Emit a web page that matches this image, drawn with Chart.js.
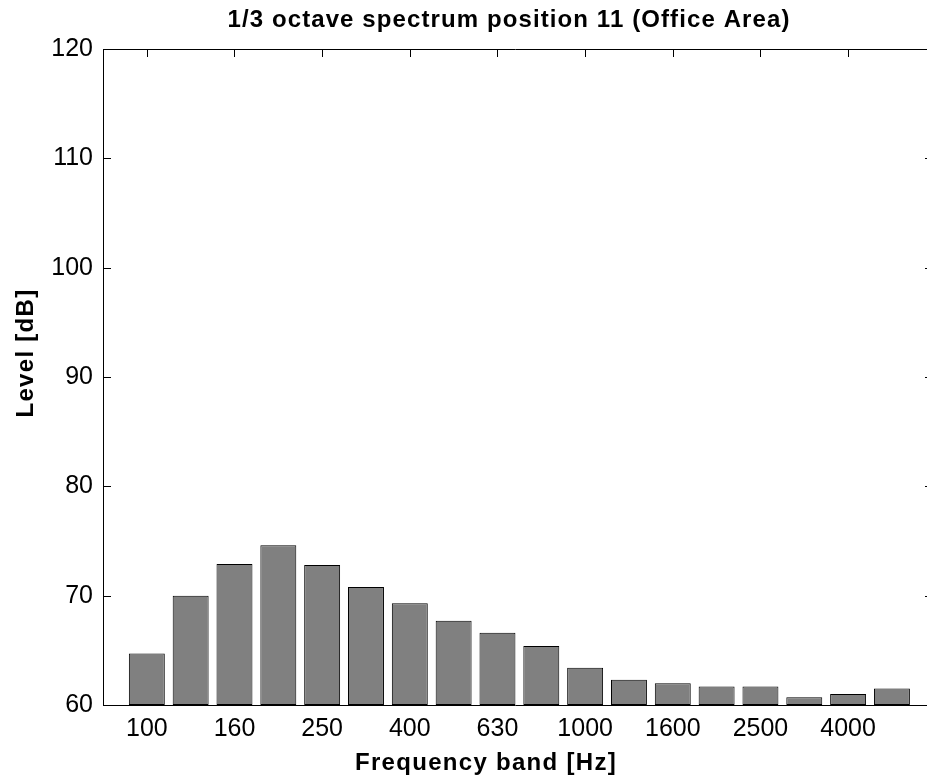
<!DOCTYPE html>
<html>
<head>
<meta charset="utf-8">
<script src="https://cdn.jsdelivr.net/npm/chart.js@4.4.1/dist/chart.umd.min.js"></script>
<style>
  html, body { margin: 0; padding: 0; background: #fff; overflow: hidden; }
  #wrap { width: 927px; height: 778px; position: relative; }
</style>
</head>
<body>
<div id="wrap"><canvas id="chart-spectrum"></canvas></div>
<script>
// 1/3 octave bands (Hz) and measured levels (dB)
const bands  = ['100','125','160','200','250','315','400','500','630','800','1000','1250','1600','2000','2500','3150','4000','5000'];
const levels = [64.7, 70.0, 72.9, 74.6, 72.8, 70.8, 69.3, 67.7, 66.6, 65.4, 63.4, 62.3, 62.0, 61.7, 61.7, 60.7, 61.0, 61.5];

// every second band gets a label
const labeledBands = ['100','160','250','400','630','1000','1600','2500','4000'];
const yTicks = [60, 70, 80, 90, 100, 110, 120];

const titleText  = '1/3 octave spectrum position 11 (Office Area)';
const xTitleText = 'Frequency band [Hz]';
const yTitleText = 'Level [dB]';

const FONT = '"Liberation Sans", Arial, Helvetica, sans-serif';

// MATLAB-like box with inward ticks + titles
const matlabFrame = {
  id: 'matlabFrame',
  beforeDatasetsDraw(chart) {
    const { ctx, chartArea: a, scales } = chart;
    ctx.save();
    ctx.strokeStyle = '#000';
    ctx.lineWidth = 1;
    ctx.beginPath();
    ctx.moveTo(a.left + 0.5, a.top + 0.5);
    ctx.lineTo(a.right + 0.5, a.top + 0.5);
    ctx.moveTo(a.left + 0.5, a.top);
    ctx.lineTo(a.left + 0.5, a.bottom + 0.5);
    ctx.lineTo(a.right + 0.5, a.bottom + 0.5);
    // y ticks, left and right
    scales.y.ticks.forEach(t => {
      const py = Math.round(scales.y.getPixelForValue(t.value)) + 0.5;
      ctx.moveTo(a.left, py); ctx.lineTo(a.left + 8, py);
      ctx.moveTo(a.right, py); ctx.lineTo(a.right - 2, py);
    });
    // x ticks, top and bottom
    scales.x.ticks.forEach(t => {
      const px = Math.round(scales.x.getPixelForValue(t.value)) + 0.5;
      ctx.moveTo(px, a.top); ctx.lineTo(px, a.top + 8);
      ctx.moveTo(px, a.bottom); ctx.lineTo(px, a.bottom - 8);
    });
    ctx.stroke();
    ctx.restore();
  },
  afterDraw(chart) {
    const { ctx } = chart;
    ctx.save();
    ctx.fillStyle = '#000';
    ctx.textAlign = 'center';
    ctx.textBaseline = 'alphabetic';
    ctx.font = 'bold 24px ' + FONT;
    ctx.letterSpacing = '1.1px';
    ctx.fillText(titleText, 509, 27);
    ctx.letterSpacing = '1.3px';
    ctx.fillText(xTitleText, 486, 770);
    ctx.translate(33, 353);
    ctx.rotate(-Math.PI / 2);
    ctx.fillText(yTitleText, 0, 0);
    ctx.restore();
  }
};

const ctx = document.getElementById('chart-spectrum');
new Chart(ctx, {
  type: 'bar',
  data: {
    datasets: [{
      label: 'Level',
      data: levels.map((v, i) => ({ x: i + 1, y: v })),
      base: 60,
      backgroundColor: '#808080',
      borderColor: '#000',
      borderWidth: 1,
      borderSkipped: false,
      inflateAmount: 0,
      barPercentage: 0.82,
      categoryPercentage: 1.0
    }]
  },
  options: {
    responsive: true,
    maintainAspectRatio: false,
    animation: false,
    layout: { padding: { top: 49, left: 0, right: 0, bottom: 0 } },
    plugins: {
      legend: { display: false },
      tooltip: { enabled: false },
      title: { display: false }
    },
    scales: {
      x: {
        type: 'linear',
        offset: false,
        min: 0,
        max: 18.8,
        grid: { display: false },
        border: { display: false },
        afterBuildTicks: s => {
          s.ticks = labeledBands.map(b => ({ value: bands.indexOf(b) + 1 }));
        },
        afterFit: s => { s.height = 73; },
        ticks: {
          autoSkip: false,
          maxRotation: 0,
          padding: 1,
          color: '#000',
          font: { family: FONT, size: 25 },
          callback: v => bands[v - 1]
        }
      },
      y: {
        min: 60,
        max: 120,
        grid: { display: false },
        border: { display: false },
        afterBuildTicks: s => {
          s.ticks = yTicks.map(v => ({ value: v }));
        },
        afterFit: s => { s.width = 103; },
        ticks: {
          padding: 2,
          color: '#000',
          font: { family: FONT, size: 25 }
        }
      }
    }
  },
  plugins: [matlabFrame]
});
</script>
</body>
</html>
